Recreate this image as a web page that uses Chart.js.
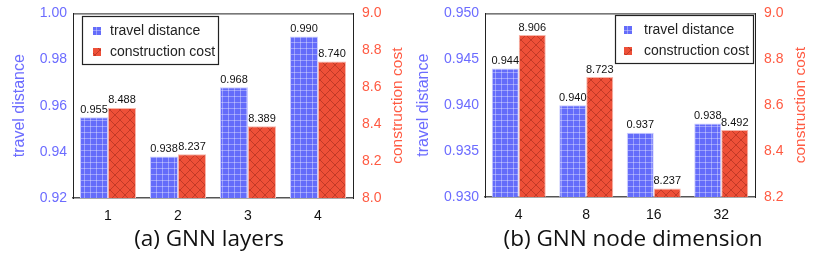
<!DOCTYPE html>
<html>
<head>
<meta charset="utf-8">
<script src="https://cdn.jsdelivr.net/npm/chart.js@4.4.0/dist/chart.umd.min.js"></script>
<style>
  html, body { margin: 0; padding: 0; background: #fff; }
  .panel { position: absolute; top: 0; width: 411px; height: 254px; }
</style>
</head>
<body>
<div class="panel" style="left:0"><canvas id="chartA" width="411" height="254"></canvas></div>
<div class="panel" style="left:411px"><canvas id="chartB" width="411" height="254"></canvas></div>
<script>
// ===== ДАННЫЕ =====
const layersLabels = ['1', '2', '3', '4'];
const layersDistance = [0.955, 0.938, 0.968, 0.990];
const layersCost = [8.488, 8.237, 8.389, 8.740];

const dimLabels = ['4', '8', '16', '32'];
const dimDistance = [0.944, 0.940, 0.937, 0.938];
const dimCost = [8.906, 8.723, 8.237, 8.492];

const BLUE_TXT = '#6c6cff';
const RED_TXT = '#ff5a42';

// ===== ШТРИХОВКА =====
function gridPattern() {
    const c = document.createElement('canvas');
    c.width = 6; c.height = 6;
    const g = c.getContext('2d');
    g.fillStyle = '#646cfa';
    g.fillRect(0, 0, 6, 6);
    g.fillStyle = 'rgba(255,255,255,0.35)';
    g.fillRect(0, 0, 6, 1);
    g.fillRect(0, 0, 1, 6);
    return g.createPattern(c, 'repeat');
}

function crossPattern() {
    const c = document.createElement('canvas');
    c.width = 10; c.height = 10;
    const g = c.getContext('2d');
    g.fillStyle = '#ee5038';
    g.fillRect(0, 0, 10, 10);
    g.strokeStyle = 'rgba(140,30,20,0.45)';
    g.lineWidth = 1;
    g.beginPath();
    g.moveTo(0, 0); g.lineTo(10, 10);
    g.moveTo(10, 0); g.lineTo(0, 10);
    g.stroke();
    return g.createPattern(c, 'repeat');
}

const bluePat = gridPattern();
const redPat = crossPattern();

// ===== ПЛАГИН: рамка, подписи, легенда, заголовки =====
const decorPlugin = {
    id: 'decor',
    afterDatasetsDraw(chart, args, opts) {
        const ctx = chart.ctx;
        const area = chart.chartArea;
        ctx.save();

        // верхняя граница
        ctx.strokeStyle = '#222';
        ctx.lineWidth = 1;
        ctx.beginPath();
        ctx.moveTo(area.left, area.top + 0.5);
        ctx.lineTo(area.right, area.top + 0.5);
        ctx.stroke();

        // значения над столбцами
        ctx.font = '11px "Liberation Sans", Arial, sans-serif';
        ctx.fillStyle = '#111';
        ctx.textAlign = 'center';
        ctx.textBaseline = 'bottom';
        chart.data.datasets.forEach((ds, i) => {
            chart.getDatasetMeta(i).data.forEach((bar, j) => {
                ctx.fillText(ds.data[j].toFixed(3), bar.x, bar.y - 2);
            });
        });

        // легенда
        const lg = opts.legend;
        ctx.fillStyle = '#fff';
        ctx.fillRect(lg.x, lg.y, lg.w, lg.h);
        ctx.strokeStyle = '#222';
        ctx.lineWidth = 1.2;
        ctx.strokeRect(lg.x + 0.5, lg.y + 0.5, lg.w, lg.h);
        ctx.font = '14px "Liberation Sans", Arial, sans-serif';
        ctx.textAlign = 'left';
        ctx.textBaseline = 'middle';
        chart.data.datasets.forEach((ds, i) => {
            const cy = lg.y + 15 + i * 21;
            ctx.fillStyle = i === 0 ? bluePat : redPat;
            ctx.fillRect(lg.mx - 4, cy - 4, 8, 8);
            ctx.fillStyle = '#222';
            ctx.fillText(ds.label, lg.tx, cy);
        });

        // правый заголовок оси (снизу вверх)
        ctx.save();
        ctx.translate(opts.rightTitleX, (area.top + area.bottom) / 2);
        ctx.rotate(-Math.PI / 2);
        ctx.textAlign = 'center';
        ctx.textBaseline = 'middle';
        ctx.font = '15.5px "Liberation Sans", Arial, sans-serif';
        ctx.fillStyle = RED_TXT;
        ctx.fillText('construction cost', 0, 0);
        ctx.restore();

        // подпись под графиком
        ctx.font = '22.5px "Open Sans", sans-serif';
        ctx.fillStyle = '#111';
        ctx.textAlign = 'center';
        ctx.textBaseline = 'middle';
        ctx.fillText(opts.caption, opts.captionX, 240);

        ctx.restore();
    }
};

function makeChart(id, labels, dist, cost, cfg) {
    return new Chart(document.getElementById(id), {
        type: 'bar',
        data: {
            labels: labels,
            datasets: [
                {
                    label: 'travel distance',
                    data: dist,
                    yAxisID: 'y',
                    backgroundColor: bluePat,
                    borderColor: '#c9cbff',
                    borderWidth: 1,
                    categoryPercentage: 0.8,
                    barPercentage: 1.0
                },
                {
                    label: 'construction cost',
                    data: cost,
                    yAxisID: 'y1',
                    backgroundColor: redPat,
                    borderColor: '#f7b5aa',
                    borderWidth: 1,
                    categoryPercentage: 0.8,
                    barPercentage: 1.0
                }
            ]
        },
        options: {
            responsive: false,
            animation: false,
            layout: { padding: { top: 11, left: 0, right: 0, bottom: 0 } },
            plugins: {
                legend: { display: false },
                tooltip: { enabled: false },
                decor: cfg.decor
            },
            scales: {
                x: {
                    grid: { display: false, drawTicks: true, tickLength: 4, color: '#222' },
                    border: { display: true, color: '#555', width: 1.5 },
                    ticks: { color: '#111', font: { size: 14, family: '"Liberation Sans", Arial' }, padding: 6 },
                    afterFit: s => { s.height = cfg.bottom; }
                },
                y: {
                    position: 'left',
                    min: cfg.yMin, max: cfg.yMax,
                    grid: { display: false, drawTicks: true, tickLength: 4, color: '#222' },
                    border: { display: true, color: '#222', width: 1 },
                    ticks: {
                        stepSize: cfg.yStep,
                        color: BLUE_TXT,
                        padding: 2,
                        font: { size: 14, family: '"Liberation Sans", Arial' },
                        callback: v => v.toFixed(cfg.yDec)
                    },
                    title: {
                        display: true,
                        text: 'travel distance',
                        color: BLUE_TXT,
                        font: { size: 16, family: '"Liberation Sans", Arial' },
                        padding: { top: cfg.leftTitlePad, bottom: 0 }
                    },
                    afterFit: s => { s.width = cfg.left; }
                },
                y1: {
                    position: 'right',
                    min: cfg.y1Min, max: cfg.y1Max,
                    grid: { display: false, drawTicks: true, tickLength: 4, color: '#222' },
                    border: { display: true, color: '#222', width: 1 },
                    ticks: {
                        stepSize: 0.2,
                        color: RED_TXT,
                        padding: 5,
                        font: { size: 14, family: '"Liberation Sans", Arial' },
                        callback: v => v.toFixed(1)
                    },
                    afterFit: s => { s.width = cfg.right; }
                }
            }
        },
        plugins: [decorPlugin]
    });
}

makeChart('chartA', layersLabels, layersDistance, layersCost, {
    yMin: 0.92, yMax: 1.00, yStep: 0.02, yDec: 2,
    y1Min: 8.0, y1Max: 9.0,
    left: 73, right: 58, bottom: 56, leftTitlePad: 10,
    decor: {
        legend: { x: 82, y: 16, w: 136, h: 48, mx: 97, tx: 110 },
        rightTitleX: 398,
        caption: '(a) GNN layers',
        captionX: 209
    }
});

makeChart('chartB', dimLabels, dimDistance, dimCost, {
    yMin: 0.930, yMax: 0.950, yStep: 0.005, yDec: 3,
    y1Min: 8.2, y1Max: 9.0,
    left: 74, right: 67, bottom: 57, leftTitlePad: 3,
    decor: {
        legend: { x: 204, y: 15, w: 138, h: 48, mx: 217, tx: 233 },
        rightTitleX: 390,
        caption: '(b) GNN node dimension',
        captionX: 222
    }
});
</script>
</body>
</html>
